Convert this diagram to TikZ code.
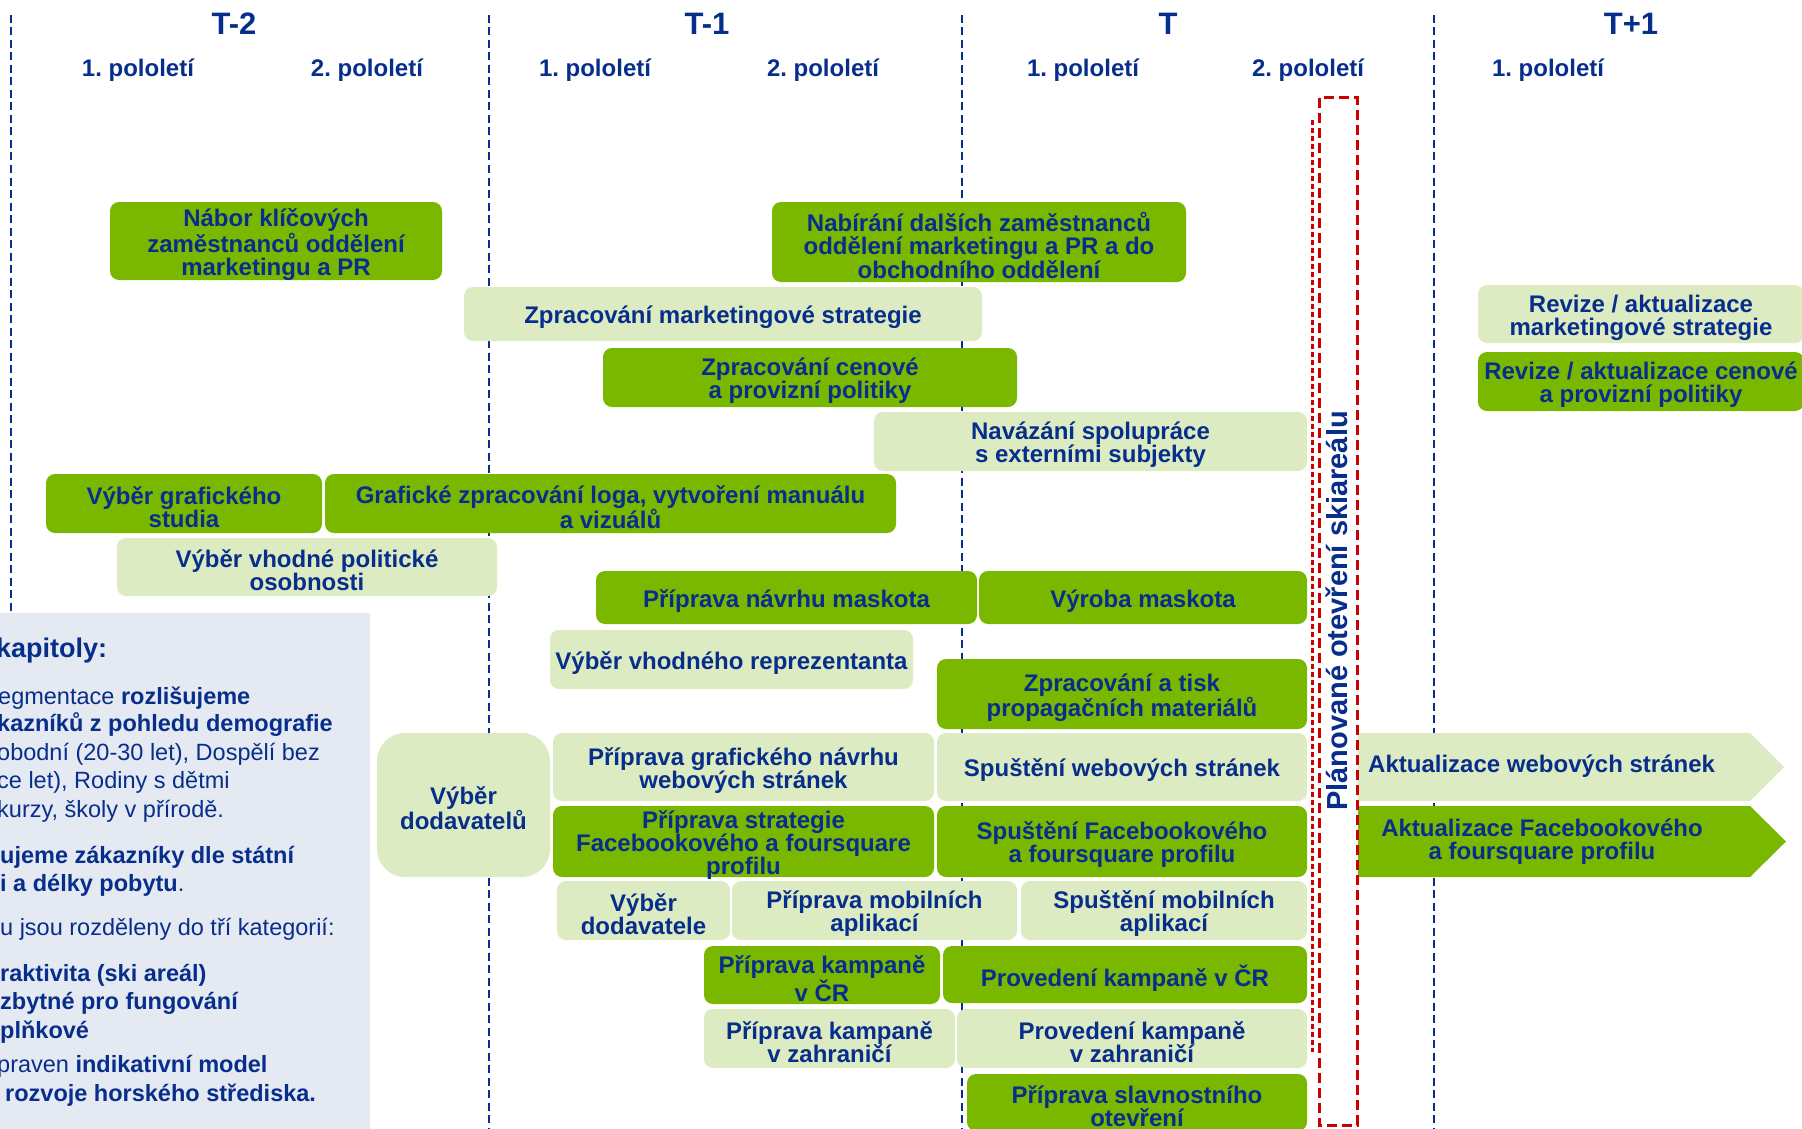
\documentclass[tikz,border=0pt]{standalone}
\usepackage{fontspec}
\setmainfont{Liberation Sans}
\frenchspacing
\definecolor{navy}{RGB}{8,46,140}
\definecolor{dkg}{RGB}{122,184,0}
\definecolor{ltg}{RGB}{221,235,194}
\definecolor{panelbg}{RGB}{228,233,242}
\definecolor{redd}{RGB}{204,0,0}
\tikzset{
  box/.style={rounded corners=9pt, inner sep=0pt},
  boxtext/.style={inner sep=0pt, align=center, text=navy,
    font=\fontsize{24}{23}\selectfont\bfseries},
  dk/.style={box, fill=dkg},
  lt/.style={box, fill=ltg},
  yearlbl/.style={text=navy, font=\fontsize{31}{33}\selectfont\bfseries, inner sep=0pt},
  halflbl/.style={text=navy, font=\fontsize{24}{26}\selectfont\bfseries, inner sep=0pt},
  divider/.style={navy, line width=2pt, dash pattern=on 8pt off 4.5pt},
  ptext/.style={text=navy, anchor=base west, inner sep=0pt, font=\fontsize{23.5}{28}\selectfont},
}
\newcommand\taskbox[7]{%
  \node[#1,minimum width={(#5-#3)*1pt},minimum height={(#6-#4)*1pt}] (#2) at ({(#3+#5)/2},{(#4+#6)/2}) {};
  \node[boxtext] (#2-text) at ([yshift=-3.5pt]#2.center) {#7};}
\begin{document}
\begin{tikzpicture}[x=1pt,y=-1pt]
\useasboundingbox (0,0) rectangle (1802,1129);
\clip (0,0) rectangle (1802,1129);
\fill[white] (0,0) rectangle (1802,1129);

% dividers
\draw[divider] (11,15) -- (11,1129);
\draw[divider] (489,15) -- (489,1129);
\draw[divider] (962,15) -- (962,1129);
\draw[divider] (1434,15) -- (1434,1129);

% headers
\node[yearlbl] (t2) at (234,24) {T-2};
\node[yearlbl] (t1) at (707,24) {T-1};
\node[yearlbl] (t0) at (1168,24) {T};
\node[yearlbl] (tp1) at (1631,24) {T+1};
\node[halflbl] (h1) at (138,70) {1. pololetí};
\node[halflbl] (h2) at (367,70) {2. pololetí};
\node[halflbl] (h3) at (595,70) {1. pololetí};
\node[halflbl] (h4) at (823,70) {2. pololetí};
\node[halflbl] (h5) at (1083,70) {1. pololetí};
\node[halflbl] (h6) at (1308,70) {2. pololetí};
\node[halflbl] (h7) at (1548,70) {1. pololetí};

% left panel
\fill[panelbg] (0,613) rectangle (370,1129);
\node[ptext, font=\fontsize{27}{30}\selectfont\bfseries] (p0) at (-4,657) {kapitoly:};
\node[ptext] (p1) at (-2,704) {egmentace \textbf{rozlišujeme}};
\node[ptext] (p2) at (-3,731) {\textbf{kazníků z pohledu demografie}};
\node[ptext] (p3) at (-3,760) {obodní (20-30 let), Dospělí bez};
\node[ptext] (p4) at (-3,788) {ce let), Rodiny s dětmi};
\node[ptext] (p5) at (-3,817) {kurzy, školy v přírodě.};
\node[ptext] (p6) at (0,863) {\textbf{ujeme zákazníky dle státní}};
\node[ptext] (p7) at (0,891) {\textbf{i a délky pobytu}.};
\node[ptext] (p8) at (0,935) {u jsou rozděleny do tří kategorií:};
\node[ptext] (p9) at (0,981) {\textbf{raktivita (ski areál)}};
\node[ptext] (p10) at (0,1009) {\textbf{zbytné pro fungování}};
\node[ptext] (p11) at (0,1038) {\textbf{plňkové}};
\node[ptext] (p12) at (-3,1072) {praven \textbf{indikativní model}};
\node[ptext] (p13) at (5,1101) {\textbf{rozvoje horského střediska.}};

% tasks
\taskbox{dk}{nabor}{110}{202}{442}{280}{Nábor klíčových\\zaměstnanců oddělení\\marketingu a PR}
\taskbox{dk}{nabirani}{772}{202}{1186}{282}{Nabírání dalších zaměstnanců\\oddělení marketingu a PR a do\\obchodního oddělení}
\taskbox{lt}{mstrat}{464}{287}{982}{341}{Zpracování marketingové strategie}
\taskbox{dk}{cenova}{603}{348}{1017}{407}{Zpracování cenové\\a provizní politiky}
\taskbox{lt}{navazani}{874}{412}{1307}{471}{Navázání spolupráce\\s externími subjekty}
\taskbox{dk}{studio}{46}{474}{322}{533}{Výběr grafického\\studia}
\taskbox{dk}{logo}{325}{474}{896}{533}{Grafické zpracování loga, vytvoření manuálu\\a vizuálů}
\taskbox{lt}{osobnost}{117}{538}{497}{596}{Výběr vhodné politické\\osobnosti}
\taskbox{dk}{maskotnavrh}{596}{571}{977}{624}{Příprava návrhu maskota}
\taskbox{dk}{maskotvyroba}{979}{571}{1307}{624}{Výroba maskota}
\taskbox{lt}{reprezentant}{550}{630}{913}{689}{Výběr vhodného reprezentanta}
\taskbox{dk}{tisk}{937}{659}{1307}{729}{Zpracování a tisk\\propagačních materiálů}
\taskbox{lt, rounded corners=28pt}{dodavatelu}{377}{733}{550}{877}{Výběr\\dodavatelů}
\taskbox{lt}{webnavrh}{553}{733}{934}{801}{Příprava grafického návrhu\\webových stránek}
\taskbox{lt}{webspust}{937}{733}{1307}{801}{Spuštění webových stránek}
\taskbox{dk}{fbstrat}{553}{806}{934}{877}{Příprava strategie\\Facebookového a foursquare\\profilu}
\taskbox{dk}{fbspust}{937}{806}{1307}{877}{Spuštění Facebookového\\a foursquare profilu}
\taskbox{lt}{dodavatele}{557}{881}{730}{940}{Výběr\\dodavatele}
\taskbox{lt}{mobpriprava}{732}{881}{1017}{940}{Příprava mobilních\\aplikací}
\taskbox{lt}{mobspust}{1021}{881}{1307}{940}{Spuštění mobilních\\aplikací}
\taskbox{dk}{kampcr}{704}{946}{940}{1004}{Příprava kampaně\\v ČR}
\taskbox{dk}{provcr}{943}{946}{1307}{1003}{Provedení kampaně v ČR}
\taskbox{lt}{kampzahr}{704}{1009}{955}{1068}{Příprava kampaně\\v zahraničí}
\taskbox{lt}{provzahr}{957}{1009}{1307}{1068}{Provedení kampaně\\v zahraničí}
\taskbox{dk}{slavnost}{967}{1074}{1307}{1131}{Příprava slavnostního\\otevření}
\taskbox{lt}{revmark}{1478}{285}{1804}{343}{Revize / aktualizace\\marketingové strategie}
\taskbox{dk}{revcen}{1478}{352}{1804}{411}{Revize / aktualizace cenové\\a provizní politiky}

% arrows into T+1
\fill[ltg] (1358,733) -- (1750,733) -- (1784,767) -- (1750,801) -- (1358,801) -- cycle;
\node[boxtext, anchor=west] (aktweb) at (1368,766) {Aktualizace webových stránek};
\fill[dkg] (1358,806) -- (1750,806) -- (1786,841.5) -- (1750,877) -- (1358,877) -- cycle;
\node[boxtext] (aktfb) at (1542,842) {Aktualizace Facebookového\\a foursquare profilu};

% planned opening
\draw[redd, line width=3pt, dash pattern=on 5pt off 3pt] (1312,120) -- (1312,1052);
\draw[redd, line width=3pt, dash pattern=on 10pt off 5pt] (1319,98) rectangle (1357,1125);
\node[rotate=90, text=navy, inner sep=0pt, font=\fontsize{29}{31}\selectfont\bfseries] (otevreni) at (1337,611) {Plánované otevření skiareálu};
\end{tikzpicture}
\end{document}
